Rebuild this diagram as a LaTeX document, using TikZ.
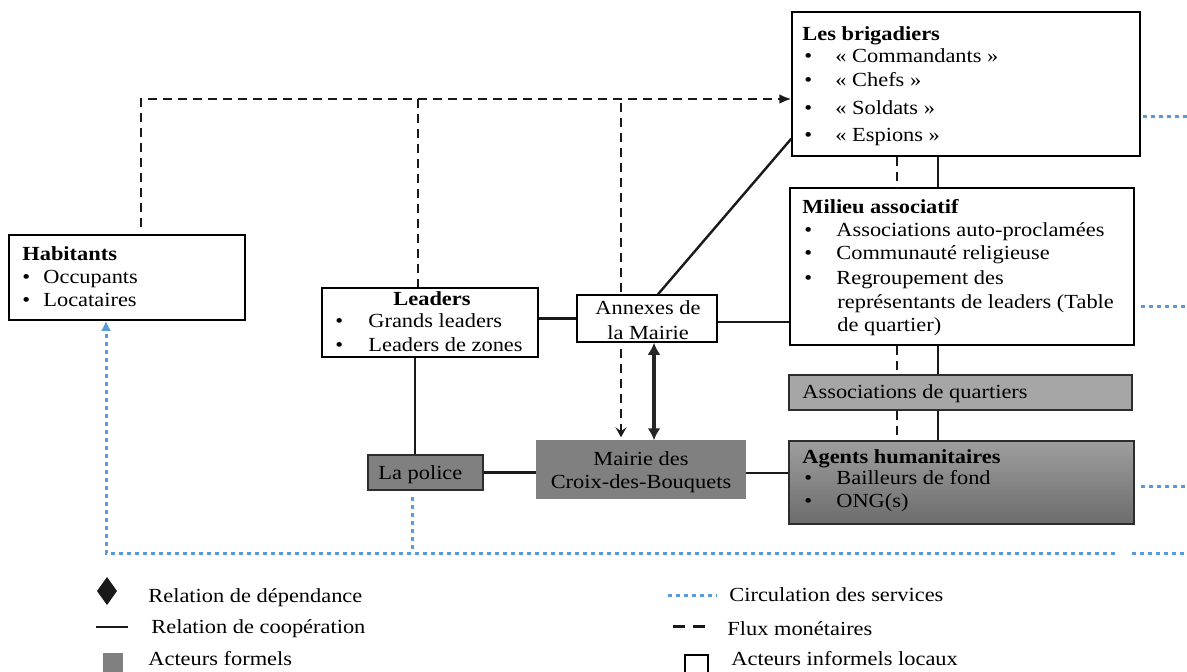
\documentclass[tikz,border=0pt]{standalone}
\usepackage{fontspec}
\setmainfont[FakeStretch=1.12]{Liberation Serif}
\usetikzlibrary{arrows.meta,fit}
\definecolor{svc}{RGB}{91,155,213}
\definecolor{formal}{RGB}{128,128,128}
\definecolor{assoc}{RGB}{166,166,166}
\definecolor{edge}{RGB}{45,45,45}
\newcommand\bl[2][16pt]{\makebox[#1][l]{\textbullet}#2}
\begin{document}
\begin{tikzpicture}[x=0.5pt,y=-0.5pt,
  box/.style={draw=black, line width=0.75pt, inner sep=0pt, fill=white},
  txt/.style={anchor=base west, inner sep=0pt, font=\fontsize{10pt}{12pt}\selectfont},
  ctxt/.style={anchor=base, inner sep=0pt, font=\fontsize{10pt}{12pt}\selectfont},
  coop/.style={line width=1.2pt, draw=black!90},
  money/.style={line width=1.2pt, draw=black!90, dash pattern=on 4.5pt off 3pt},
  svcl/.style={draw=svc, line width=1.5pt, dash pattern=on 2pt off 2pt},
]
\path[use as bounding box, clip] (0,0) rectangle (1187,671);

% ---------- boxes ----------
\node[box, fit={(792,12) (1140,156)}] (brig) {};
\node[box, fit={(790,188) (1134,345)}] (mil) {};
\node[box, fill=assoc, draw=edge, fit={(789,375) (1132,410)}] (aq) {};
\node[box, draw=edge, top color={rgb,255:red,158;green,158;blue,158}, bottom color={rgb,255:red,108;green,108;blue,108}, fit={(789,441) (1134,524)}] (agh) {};
\node[box, fit={(9,235) (245,320)}] (hab) {};
\node[box, fit={(322,288) (538,357)}] (lead) {};
\node[box, fit={(577,295) (717,342)}] (ann) {};
\node[box, fill=formal, draw=formal, fit={(537,441) (745,498)}] (mai) {};
\node[box, fill=formal, draw=edge, line width=1pt, fit={(368,455) (483,490)}] (pol) {};

% ---------- texts ----------
\node[txt] (brigT) at (802,40) {\textbf{Les brigadiers}};
\node[txt] (brig1) at (804,62) {\bl[15.5pt]{« Commandants »}};
\node[txt] (brig2) at (804,86) {\bl[15.5pt]{« Chefs »}};
\node[txt] (brig3) at (804,114) {\bl[15.5pt]{« Soldats »}};
\node[txt] (brig4) at (804,141) {\bl[15.5pt]{« Espions »}};

\node[txt] (milT) at (802,213) {\textbf{Milieu associatif}};
\node[txt] (mil1) at (804,236) {\bl{Associations auto-proclamées}};
\node[txt] (mil2) at (804,259) {\bl{Communauté religieuse}};
\node[txt] (mil3) at (804,284) {\bl{Regroupement des}};
\node[txt] (mil4) at (837,308) {représentants de leaders (Table};
\node[txt] (mil5) at (837,331) {de quartier)};

\node[txt] (aqT) at (802,398) {Associations de quartiers};

\node[txt] (aghT) at (802,463) {\textbf{Agents humanitaires}};
\node[txt] (agh1) at (804,484) {\bl{Bailleurs de fond}};
\node[txt] (agh2) at (804,507) {\bl{ONG(s)}};

\node[txt] (habT) at (22,260) {\textbf{Habitants}};
\node[txt] (hab1) at (22,283) {\bl[10.5pt]{Occupants}};
\node[txt] (hab2) at (22,306) {\bl[10.5pt]{Locataires}};

\node[ctxt] (leadT) at (432,305) {\textbf{Leaders}};
\node[txt] (lead1) at (335,327) {\bl[16.5pt]{Grands leaders}};
\node[txt] (lead2) at (335,351) {\bl[16.5pt]{Leaders de zones}};

\node[ctxt] (ann1) at (648,314) {Annexes de};
\node[ctxt] (ann2) at (648,339) {la Mairie};

\node[ctxt] (mai1) at (641,465) {Mairie des};
\node[ctxt] (mai2) at (641,488) {Croix-des-Bouquets};

\node[txt] (polT) at (378,479) {La police};

% ---------- helper coordinates ----------
\coordinate (c1) at (141,99);
\coordinate (lx) at (418,0);
\coordinate (ax) at (621,0);
\coordinate (dx) at (654,0);
\coordinate (mx) at (897,0);
\coordinate (sx) at (938,0);
\coordinate (px) at (412,0);
\coordinate (b1) at (106,553);
\coordinate (b2) at (1115,553);
\coordinate (b3) at (1132,553);
\coordinate (b4) at (1187,553);
\coordinate (r1) at (1187,116);
\coordinate (r2) at (1187,306);
\coordinate (r3) at (1187,486);

% ---------- cooperation (solid) ----------
\draw[coop] (ann.west) -- (ann.west -| lead.east);
\draw[coop] ([yshift=-1.75pt]ann.east) -- ([yshift=-1.75pt]ann.east -| mil.west);
\draw[coop] ([xshift=5.5pt]ann.north) -- ([yshift=9pt]brig.south west);
\draw[coop] (lx |- lead.south) ++(-1.5pt,0) coordinate (ls) -- (ls |- pol.north);
\draw[coop] (pol.east) -- (pol.east -| mai.west);
\draw[coop] ([yshift=-1.75pt]mai.east) -- ([yshift=-1.75pt]mai.east -| agh.west);
\draw[coop] (sx |- brig.south) -- (sx |- mil.north);
\draw[coop] (sx |- mil.south) -- (sx |- aq.north);
\draw[coop] (sx |- aq.south) -- (sx |- agh.north);

% ---------- money flows (dashed) ----------
\draw[money, -{Latex[length=6pt,width=5pt]}] ([yshift=3.5pt]hab.north -| c1) -- (c1) -- (c1 -| brig.west);
\draw[money] (lx |- c1) -- (lx |- lead.north);
\draw[money] ([yshift=-2pt]ax |- c1) -- (ax |- ann.north);
\draw[money, -{Stealth[length=5pt,width=5.5pt,inset=2pt]}, shorten <=3pt, shorten >=1.5pt] (ax |- ann.south) -- (ax |- mai.north);
\draw[money] (mx |- brig.south) -- (mx |- mil.north);
\draw[money] (mx |- mil.south) -- (mx |- aq.north);
\draw[money] (mx |- aq.south) -- (mx |- agh.north);

% ---------- dependence (double arrow) ----------
\draw[line width=1.7pt, draw=black!85, {Latex[length=6pt,width=6.5pt]}-{Latex[length=6pt,width=6.5pt]}] (dx |- ann.south) -- (dx |- mai.north);

% ---------- services (blue dotted) ----------
\draw[svcl, -{Latex[length=5pt,width=5pt]}] (b2) -- (b1) -- (b1 |- hab.south);
\draw[svcl] ([yshift=-3pt]px |- pol.south) -- (px |- b1);
\draw[svcl] (b3) -- (b4);
\draw[svcl] ([xshift=1pt]r1 -| brig.east) -- (r1);
\draw[svcl] ([xshift=3pt]r2 -| mil.east) -- (r2);
\draw[svcl] ([xshift=3pt]r3 -| agh.east) -- (r3);

% ---------- legend ----------
\fill[black!90] (107,577) -- (117,591) -- (107,605) -- (97,591) -- cycle;
\node[txt] (lg1) at (148,602) {Relation de dépendance};
\draw[coop] (96,627) -- (128,627);
\node[txt] (lg2) at (151,633) {Relation de coopération};
\fill[formal] (103,653) rectangle (123,690);
\node[txt] (lg3) at (148,665) {Acteurs formels};

\draw[svcl] (668,595) -- (717,595);
\node[txt] (lg4) at (729,601) {Circulation des services};
\draw[line width=1.5pt, draw=black!90, dash pattern=on 6pt off 4pt] (673,626) -- (705,626);
\node[txt] (lg5) at (727,635) {Flux monétaires};
\draw[line width=0.75pt] (685,655) rectangle (708,690);
\node[txt] (lg6) at (731,665) {Acteurs informels locaux};
\end{tikzpicture}
\end{document}
